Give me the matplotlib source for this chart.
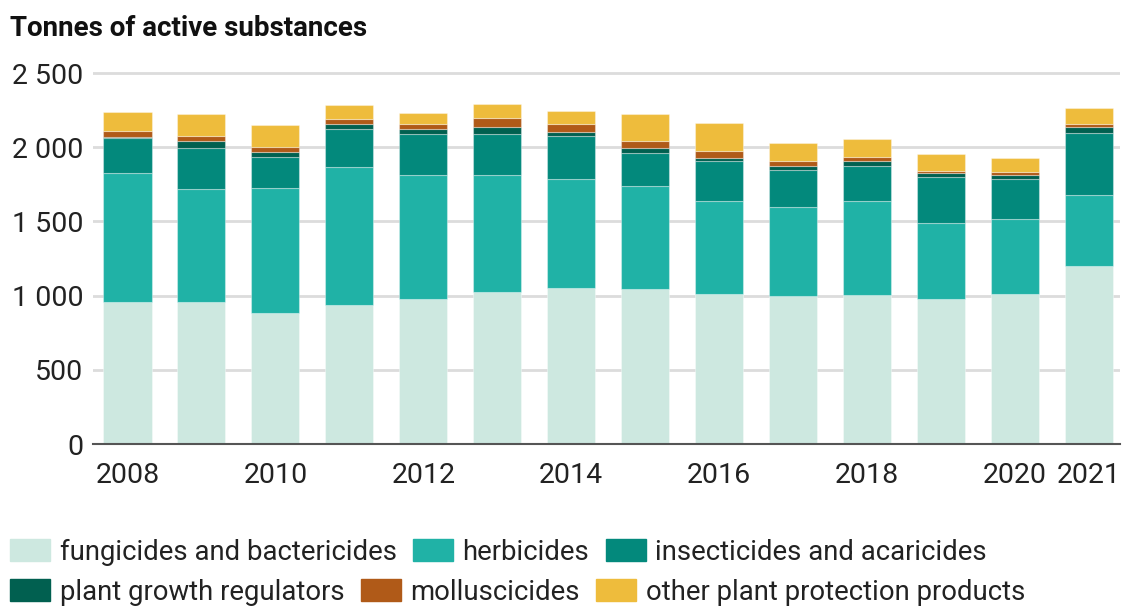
import numpy as np
import matplotlib
matplotlib.use("Agg")
import matplotlib.pyplot as plt
import matplotlib.patches as mpatches
from matplotlib.ticker import FuncFormatter

plt.rcParams["font.family"] = ["Roboto", "DejaVu Sans"]

years = [2008, 2009, 2010, 2011, 2012, 2013, 2014, 2015, 2016, 2017, 2018, 2019, 2020, 2021]
fungicides = [955, 957, 885, 939, 977, 1024, 1049, 1044, 1014, 995, 1004, 977, 1011, 1199]
herbicides = [873, 759, 838, 926, 833, 786, 735, 695, 622, 600, 633, 510, 503, 481]
insecticides = [232, 276, 209, 258, 277, 281, 291, 220, 270, 251, 234, 310, 270, 418]
growth_regulators = [11, 50, 36, 31, 33, 47, 27, 33, 24, 29, 34, 27, 29, 40]
molluscicides = [40, 33, 36, 36, 36, 59, 54, 50, 45, 30, 31, 18, 20, 20]
other_products = [128, 149, 146, 94, 76, 92, 90, 180, 187, 125, 119, 110, 94, 104]

series = [
    ("fungicides and bactericides", fungicides, "#cde8e0"),
    ("herbicides", herbicides, "#20b2a6"),
    ("insecticides and acaricides", insecticides, "#03897c"),
    ("plant growth regulators", growth_regulators, "#016050"),
    ("molluscicides", molluscicides, "#b05a18"),
    ("other plant protection products", other_products, "#eebc3c"),
]
tick_years = [2008, 2010, 2012, 2014, 2016, 2018, 2020, 2021]

fig = plt.figure(figsize=(11.22, 6.06), dpi=100)
ax = fig.add_axes([93 / 1122, 0.2673, (1120 - 93) / 1122, 0.6367])

bottom = np.zeros(len(years))
handles = []
for label, vals, color in series:
    vals = np.array(vals, dtype=float)
    ax.bar(years, vals, bottom=bottom, width=0.65, color=color,
           edgecolor=(1, 1, 1, 0.35), linewidth=0.8, zorder=3)
    bottom += vals
    handles.append(mpatches.Patch(color=color, label=label))

ax.set_xlim(2007.534, 2021.42)
ax.set_ylim(0, 2600)
ax.set_yticks([0, 500, 1000, 1500, 2000, 2500])
ax.yaxis.set_major_formatter(FuncFormatter(lambda v, p: f"{int(v):,}".replace(",", " ")))
ax.set_xticks(tick_years)
ax.set_xticklabels([str(y) for y in tick_years])
ax.tick_params(axis="both", length=0, labelsize=20.5, colors="#222222")
ax.tick_params(axis="y", pad=7)
ax.tick_params(axis="x", pad=13)
ax.grid(axis="y", color="#dcdcdc", linewidth=2, zorder=0)
for s in ["top", "right", "left"]:
    ax.spines[s].set_visible(False)
ax.spines["bottom"].set_color("#555555")
ax.spines["bottom"].set_linewidth(1.5)
ax.spines["bottom"].set_zorder(4)

fig.text(10 / 1122, 1 - 28 / 606, "Tonnes of active substances", fontsize=20,
         fontweight="bold", va="center", ha="left", color="#111111")

leg_kw = dict(ncol=3, frameon=False, handlelength=1.45, handleheight=0.9,
              handletextpad=0.35, columnspacing=0.6, borderpad=0, borderaxespad=0,
              labelcolor="#222222", prop={"size": 19.8})
leg1 = fig.legend(handles=handles[:3], loc="center left",
                  bbox_to_anchor=(10 / 1122, 1 - 552 / 606), **leg_kw)
leg2 = fig.legend(handles=handles[3:], loc="center left",
                  bbox_to_anchor=(10 / 1122, 1 - 592 / 606), **leg_kw)

fig.savefig("out.png", dpi=100)
plt.close(fig)
